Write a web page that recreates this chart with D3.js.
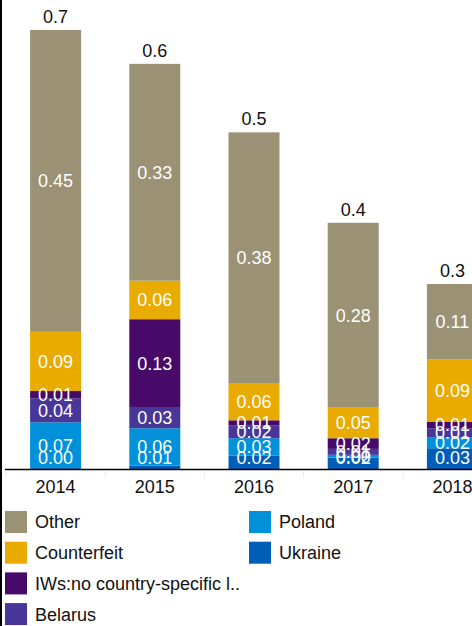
<!DOCTYPE html>
<html>
<head>
<meta charset="utf-8">
<script src="https://cdn.jsdelivr.net/npm/d3@7"></script>
<style>
  html, body { margin: 0; padding: 0; background: #fff; }
  svg { display: block; font-family: "Liberation Sans", Arial, sans-serif; }
</style>
</head>
<body>
<div id="chart"></div>
<script>
const years = ["2014", "2015", "2016", "2017", "2018"];
const seriesNames = ["Ukraine", "Poland", "Belarus", "IWs:no country-specific l..", "Counterfeit", "Other"];
const ukraine     = [0.002, 0.006, 0.021, 0.018, 0.032];
const poland      = [0.069, 0.056, 0.026, 0.004, 0.016];
const belarus     = [0.036, 0.032, 0.019, 0.009, 0.014];
const iws         = [0.011, 0.132, 0.008, 0.016, 0.010];
const counterfeit = [0.089, 0.058, 0.056, 0.046, 0.094];
const other       = [0.454, 0.326, 0.377, 0.278, 0.113];
const colors = ["#005eb8", "#0091da", "#483698", "#470a68", "#eaab00", "#9b9174"];
const legendOrder = ["Other", "Counterfeit", "IWs:no country-specific l..", "Belarus", "Poland", "Ukraine"];

const seriesValues = [ukraine, poland, belarus, iws, counterfeit, other];
const rows = years.map((y, i) => {
  const r = { year: y };
  seriesNames.forEach((s, j) => r[s] = seriesValues[j][i]);
  return r;
});

const W = 472, H = 626;
const svg = d3.select("#chart").append("svg").attr("width", W).attr("height", H);

const x = d3.scaleBand().domain(years).range([6, 502]).paddingInner(0.486).paddingOuter(0.243);
const y = d3.scaleLinear().domain([0, 0.7]).range([469.5, 4]);
const color = d3.scaleOrdinal().domain(seriesNames).range(colors);

const stack = d3.stack().keys(seriesNames)(rows);

const g = svg.append("g");
const layers = g.selectAll("g.layer").data(stack).join("g").attr("fill", d => color(d.key));
layers.selectAll("rect").data(d => d).join("rect")
  .attr("x", d => x(d.data.year))
  .attr("width", x.bandwidth())
  .attr("y", d => y(d[1]))
  .attr("height", d => y(d[0]) - y(d[1]));

// segment labels (kept inside the bar above the baseline)
const fmt2 = d3.format(".2f");
const maxLabelY = y(0) - 11.5;
stack.forEach(layer => {
  g.selectAll(null).data(layer).join("text")
    .attr("x", d => x(d.data.year) + x.bandwidth() / 2)
    .attr("y", d => Math.min((y(d[0]) + y(d[1])) / 2, maxLabelY))
    .attr("dy", "0.36em")
    .attr("text-anchor", "middle")
    .attr("fill", "#fff")
    .attr("font-size", 18)
    .text(d => fmt2(d[1] - d[0]));
});

// totals
const fmt1 = d3.format(".1f");
g.selectAll("text.total").data(rows).join("text")
  .attr("class", "total")
  .attr("x", d => x(d.year) + x.bandwidth() / 2)
  .attr("y", d => y(d3.sum(seriesNames, s => d[s])) - 7)
  .attr("text-anchor", "middle")
  .attr("fill", "#111")
  .attr("font-size", 18)
  .text(d => fmt1(d3.sum(seriesNames, s => d[s])));

// axis
const step = x.step();
const axisY = y(0);
svg.append("line").attr("x1", 5).attr("x2", W).attr("y1", axisY).attr("y2", axisY)
  .attr("stroke", "#000").attr("stroke-width", 1.6);
svg.selectAll("line.tick").data(years).join("line")
  .attr("class", "tick")
  .attr("x1", d => x(d) - step * x.paddingInner() / 2)
  .attr("x2", d => x(d) - step * x.paddingInner() / 2)
  .attr("y1", axisY + 1).attr("y2", axisY + 8)
  .attr("stroke", "#e8e8e8").attr("stroke-width", 1);
svg.selectAll("text.year").data(years).join("text")
  .attr("class", "year")
  .attr("x", d => x(d) + x.bandwidth() / 2)
  .attr("y", 493)
  .attr("text-anchor", "middle")
  .attr("fill", "#111")
  .attr("font-size", 18)
  .text(d => d);

// legend
const legend = svg.append("g");
const rowH = 30.7;
legendOrder.forEach((name, i) => {
  const col = i < 4 ? 0 : 1;
  const row = i < 4 ? i : i - 4;
  const lx = col === 0 ? 5 : 249;
  const ly = 511 + row * rowH;
  legend.append("rect").attr("x", lx).attr("y", ly).attr("width", 22).attr("height", 22)
    .attr("fill", color(name));
  legend.append("text").attr("x", lx + 30).attr("y", ly + 11).attr("dy", "0.36em")
    .attr("fill", "#111").attr("font-size", 18).text(name);
});

// left border
svg.append("rect").attr("x", 0).attr("y", 0).attr("width", 2).attr("height", H).attr("fill", "#000");
</script>
</body>
</html>
